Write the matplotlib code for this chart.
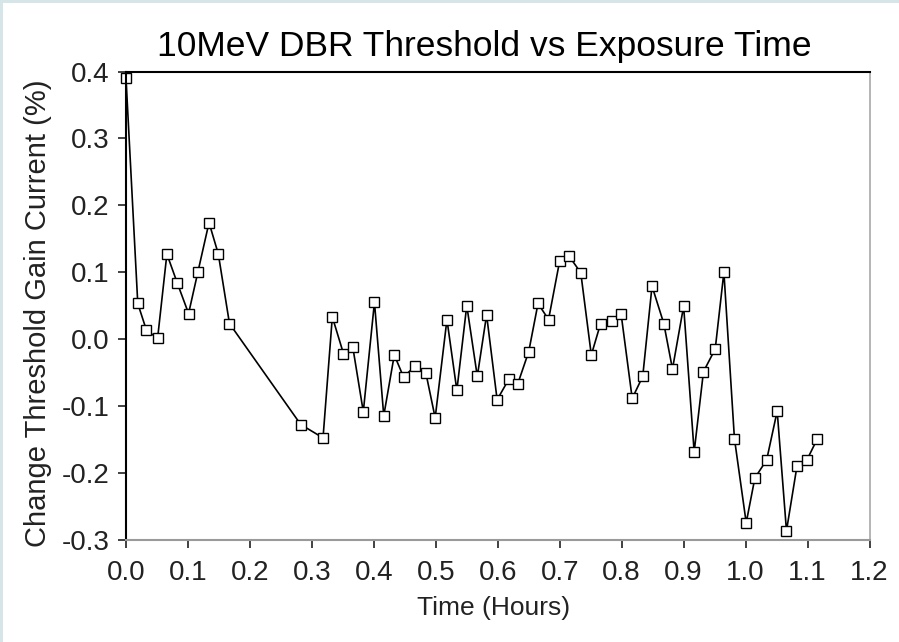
# -*- coding: utf-8 -*-

### 10MeV DBR threshold vs exposure time

import matplotlib
matplotlib.use("Agg")
import matplotlib.pyplot as plt
from matplotlib.patches import Rectangle

plt.rcParams['font.family'] = ['Liberation Sans', 'DejaVu Sans']

# Tiempo (horas) y cambio del umbral (%)
time_hours = [0.000, 0.019, 0.033, 0.051, 0.066, 0.083, 0.101, 0.116, 0.134, 0.149,
              0.167, 0.282, 0.318, 0.333, 0.351, 0.366, 0.383, 0.401, 0.416, 0.433,
              0.448, 0.466, 0.484, 0.499, 0.518, 0.534, 0.550, 0.567, 0.582, 0.599,
              0.618, 0.632, 0.650, 0.665, 0.682, 0.700, 0.715, 0.734, 0.751, 0.766,
              0.784, 0.799, 0.817, 0.834, 0.849, 0.868, 0.882, 0.900, 0.917, 0.932,
              0.951, 0.965, 0.982, 1.001, 1.015, 1.034, 1.051, 1.066, 1.083, 1.099,
              1.116]
threshold_change = [0.390, 0.053, 0.013, 0.001, 0.127, 0.083, 0.038, 0.100, 0.174, 0.127,
                    0.023, -0.128, -0.148, 0.033, -0.022, -0.012, -0.109, 0.055, -0.115, -0.024,
                    -0.057, -0.041, -0.051, -0.118, 0.029, -0.077, 0.050, -0.056, 0.036, -0.091,
                    -0.060, -0.068, -0.019, 0.053, 0.029, 0.117, 0.124, 0.099, -0.024, 0.023,
                    0.027, 0.038, -0.089, -0.056, 0.079, 0.023, -0.045, 0.049, -0.169, -0.049,
                    -0.015, 0.100, -0.149, -0.275, -0.208, -0.181, -0.108, -0.287, -0.190, -0.181,
                    -0.149]

x_ticks = [0.0, 0.1, 0.2, 0.3, 0.4, 0.5, 0.6, 0.7, 0.8, 0.9, 1.0, 1.1, 1.2]
y_ticks = [-0.3, -0.2, -0.1, 0.0, 0.1, 0.2, 0.3, 0.4]

fig = plt.figure(figsize=(8.99, 6.42), dpi=100)
fig.patch.set_facecolor("white")

# borde celeste arriba y a la izquierda
fig.add_artist(Rectangle((0, 1 - 3 / 642), 1, 3 / 642, transform=fig.transFigure,
                         facecolor="#d6e6e8", edgecolor="none"))
fig.add_artist(Rectangle((0, 0), 2.5 / 899, 1, transform=fig.transFigure,
                         facecolor="#d6e6e8", edgecolor="none"))

ax = fig.add_axes([126 / 899, 1 - 539.5 / 642, 743.5 / 899, 468 / 642])

ax.plot(time_hours, threshold_change, color="black", linewidth=1.2,
        marker="s", markersize=6.5, markerfacecolor="white",
        markeredgecolor="black", markeredgewidth=1.0, clip_on=False)

ax.set_xlim(0, 1.2)
ax.set_ylim(-0.3, 0.4)
ax.set_xticks(x_ticks)
ax.set_yticks(y_ticks)
ax.set_xticklabels(["%.1f" % v for v in x_ticks])
ax.set_yticklabels(["%.1f" % v for v in y_ticks])

for side in ["top", "left"]:
    ax.spines[side].set_color("black")
    ax.spines[side].set_linewidth(1.5)
ax.spines["bottom"].set_color("#9a9a9a")
ax.spines["bottom"].set_linewidth(1.5)
ax.spines["right"].set_color("#a8a8a8")
ax.spines["right"].set_linewidth(1.2)

ax.tick_params(axis="x", direction="out", length=6, width=1.3, color="#333333",
               labelsize=20, labelcolor="#222222", pad=9)
ax.tick_params(axis="y", direction="out", length=6, width=1.3, color="#333333",
               labelsize=20, labelcolor="#222222", pad=6)

ax.set_title("10MeV DBR Threshold vs Exposure Time", fontsize=25.5, x=0.4815, pad=11)
ax.set_xlabel("Time (Hours)", fontsize=19, color="#222222")
ax.set_ylabel("Change Threshold Gain Current (%)", fontsize=21, color="#222222")
ax.xaxis.set_label_coords(0.495, -0.121)
ax.yaxis.set_label_coords(-0.0995, 0.483)

plt.savefig("out.png", dpi=100)
